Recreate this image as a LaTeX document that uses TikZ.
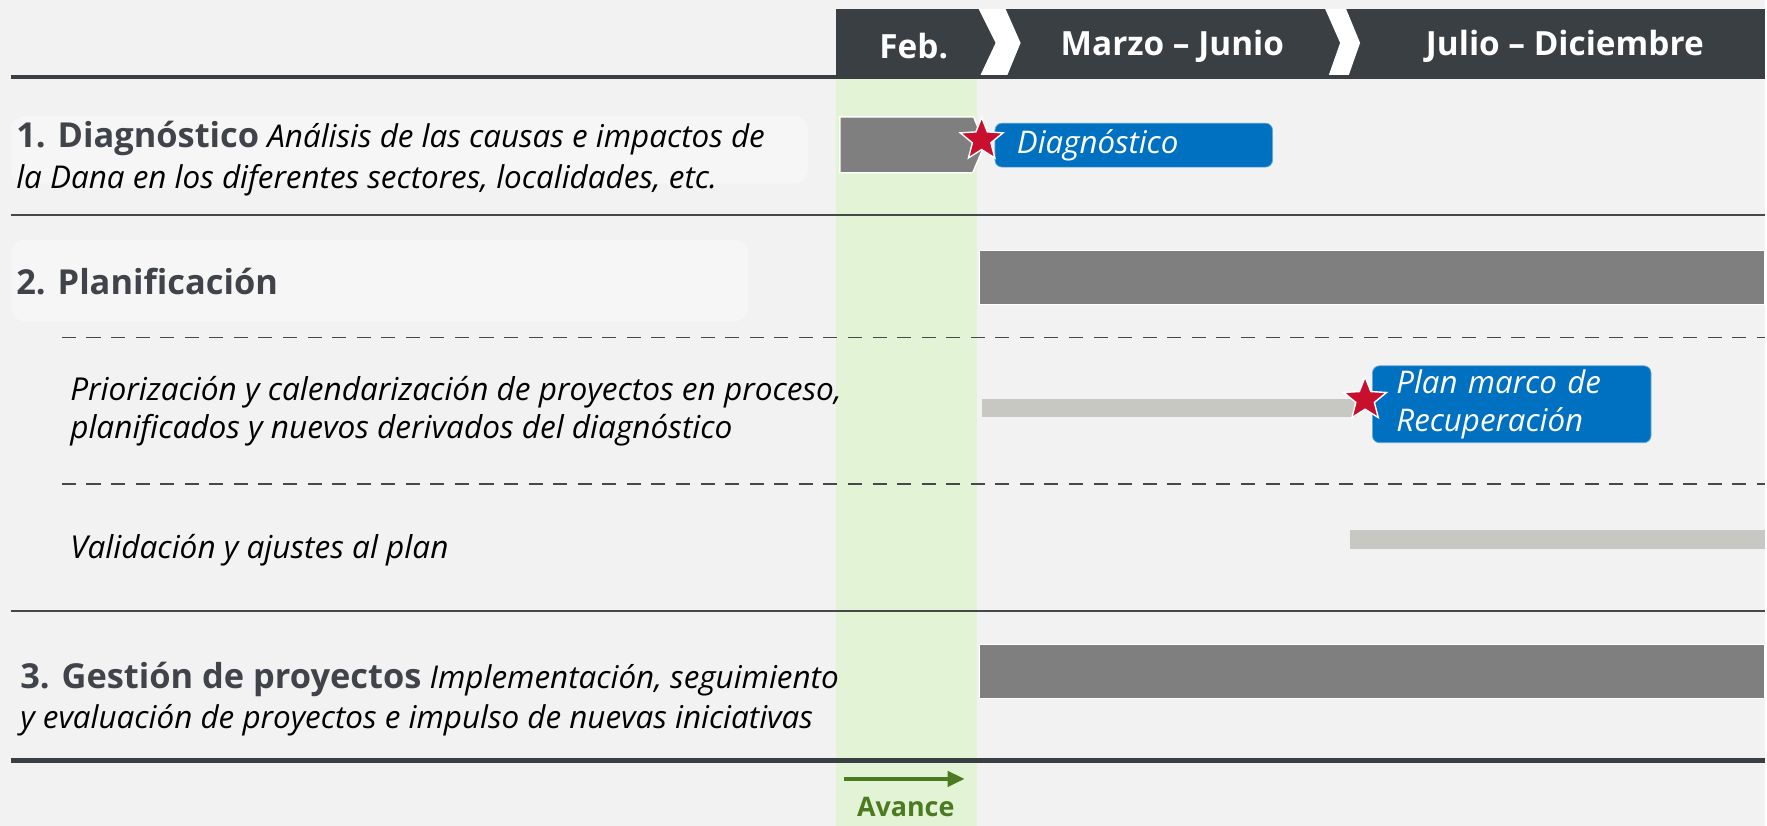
\documentclass[tikz,border=0pt]{standalone}
\usepackage{fontspec}
\setmainfont{Open Sans}
\usetikzlibrary{shapes.geometric,arrows.meta,positioning}
\definecolor{fondo}{RGB}{242,242,242}
\definecolor{fondolbl}{RGB}{246,246,246}
\definecolor{cabecera}{RGB}{58,63,68}
\definecolor{titulo}{RGB}{64,68,74}
\definecolor{linea}{RGB}{70,72,76}
\definecolor{barra}{RGB}{127,127,127}
\definecolor{barraclara}{RGB}{200,200,195}
\definecolor{azul}{RGB}{0,112,192}
\definecolor{estrella}{RGB}{200,16,46}
\definecolor{verdecol}{RGB}{226,243,214}
\definecolor{verde}{RGB}{76,122,32}

\begin{document}
\begin{tikzpicture}[x=0.02cm, y=-0.02cm,
    hdrtxt/.style={text=white, font=\fontsize{19}{23}\selectfont\bfseries},
    rowtxt/.style={anchor=west, align=left, inner sep=0pt, font=\fontsize{17.9}{23.2}\selectfont\itshape},
    subtxt/.style={anchor=west, align=left, inner sep=0pt, font=\fontsize{18}{21.5}\selectfont\itshape},
    bar/.style={draw=white, line width=0.5pt, fill=barra, inner sep=0pt, anchor=north west, minimum width=15.74cm, minimum height=1.08cm},
    thinbar/.style={fill=barraclara, inner sep=0pt, anchor=north west},
    hito/.style={star, star points=5, star point ratio=2.3, fill=estrella, draw=white, line width=0.8pt, minimum size=0.9cm, inner sep=0pt},
    nota/.style={fill=azul, draw=azul!60!white, rounded corners=4pt, text=white, font=\fontsize{17.8}{21.2}\selectfont\itshape, align=left, anchor=north west, inner ysep=0pt},
    sep/.style={draw=linea, line width=1.2pt},
    guion/.style={draw=linea, line width=1pt, dash pattern=on 8pt off 6pt}
]
    \fill[fondo] (0,0) rectangle (1767,827);

    % columna del mes actual
    \fill[verdecol] (837,77) rectangle (978,827);

    % cabecera
    \fill[cabecera] (837,9) rectangle (1767,77);
    \fill[white] (980,9) -- (1007,9) -- (1022,43) -- (1008,77) -- (981,77) -- (997,43) -- cycle;
    \fill[white] (1327,9) -- (1348,9) -- (1362,43) -- (1350,77) -- (1330,77) -- (1342,43) -- cycle;
    \node[hdrtxt] (hfeb) at (915,46) {Feb.};
    \node[hdrtxt] (hmar) at (1174,46) {Marzo -- Junio};
    \node[hdrtxt] (hjul) at (1567,46) {Julio -- Diciembre};

    \draw[cabecera, line width=2.3pt] (11,77) -- (1767,77);
    \draw[sep] (11,215) -- (1767,215);
    \draw[guion] (62,338) -- (1767,338);
    \draw[guion] (62,485) -- (1767,485);
    \draw[sep] (11,612) -- (1767,612);
    \draw[cabecera, line width=2.8pt] (11,762) -- (1767,762);

    % 1. Diagnostico
    \fill[fondolbl, rounded corners=8pt] (11,116) rectangle (809,184);
    \node[rowtxt] (diag) at (16,159) {{\upshape\bfseries\fontsize{19.6}{23.2}\selectfont\color{titulo}1. Diagnóstico} Análisis de las causas e impactos de\\la Dana en los diferentes sectores, localidades, etc.};
    \fill[barra, draw=white, line width=0.8pt] (841,117) -- (975,117) -- (986,145) -- (974,173) -- (841,173) -- cycle;
    \node[nota, minimum height=0.88cm, text width=4.68cm, inner xsep=0.44cm] (ndiag) at (996,123) {\raisebox{-2pt}{Diagnóstico}};
    \node[hito] (s1) at (983,140) {};

    % 2. Planificacion
    \fill[fondolbl, rounded corners=8pt] (11,240) rectangle (749,322);
    \node[rowtxt, font=\fontsize{19.6}{23.2}\selectfont\bfseries, text=titulo] (plan) at (16,282) {2. Planificación};
    \node[bar] (bplan) at (980,250) {};

    \node[subtxt] (prior) at (70,412) {Priorización y calendarización de proyectos en proceso,\\planificados y nuevos derivados del diagnóstico};
    \node[thinbar, minimum width=7.5cm, minimum height=0.36cm] (bprior) at (983,399) {};
    \node[nota, minimum height=1.54cm, text width=4.62cm, inner xsep=0.48cm] (nplan) at (1374,366) {Plan marco de\\Recuperación};
    \node[hito] (s2) at (1367,400) {};

    \node[subtxt] (valid) at (70,551) {Validación y ajustes al plan};
    \node[thinbar, minimum width=8.3cm, minimum height=0.38cm] (bvalid) at (1352,530) {};

    % 3. Gestion de proyectos
    \node[rowtxt] (gest) at (20,700) {{\upshape\bfseries\fontsize{19.6}{23.2}\selectfont\color{titulo}3. Gestión de proyectos} Implementación, seguimiento\\y evaluación de proyectos e impulso de nuevas iniciativas};
    \node[bar] (bgest) at (980,645) {};

    % avance
    \coordinate (a0) at (845,780);
    \coordinate (a1) at (966,780);
    \draw[verde, line width=2.3pt, -{Triangle[length=0.34cm, width=0.3cm]}] (a0) -- (a1);
    \node[text=verde, font=\fontsize{15.3}{17}\selectfont\bfseries] (av) at (907,808) {Avance};
\end{tikzpicture}
\end{document}
